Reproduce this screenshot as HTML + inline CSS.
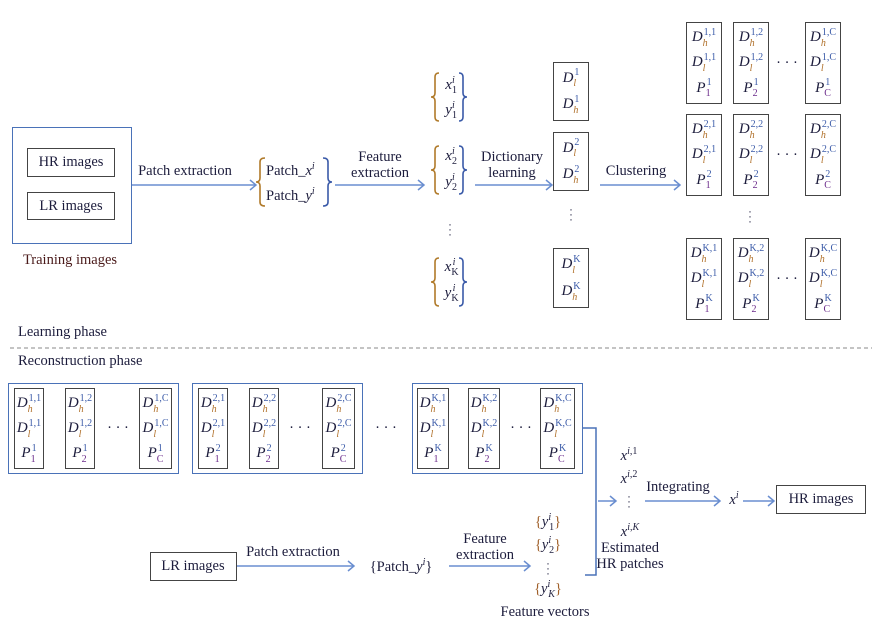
<!DOCTYPE html>
<html><head><meta charset="utf-8"><style>
body{margin:0;width:872px;height:623px;background:#fff;position:relative;overflow:hidden;font-family:"Liberation Serif",serif;color:#1c1c3c}
.t{position:absolute;white-space:nowrap;transform:translate(-50%,-50%);font-size:14.5px;line-height:16px;text-align:center}
.l{position:absolute;white-space:nowrap;font-size:14.5px}
.box{position:absolute;border:1.3px solid #444;box-sizing:border-box}
.bb{position:absolute;border:1.3px solid #4a72b8;box-sizing:border-box}
.col{position:absolute;border:1.5px solid #444;box-sizing:border-box;display:flex;flex-direction:column;justify-content:space-around;align-items:center;padding:2px 0}
.e{font-size:15px;line-height:15px;white-space:nowrap;display:flex;align-items:center}
.e i{font-style:italic}
.ss{display:inline-flex;flex-direction:column;font-size:10px;line-height:10px;margin-left:1px}
.ss b{font-weight:normal;color:#3a5aa8;height:11px}
.ss u{text-decoration:none;color:#b0702a;font-style:italic;height:9px;margin-left:-1px}
.p .ss u{color:#6a2a8a;font-style:normal}
svg{position:absolute;left:0;top:0}
</style></head><body>
<svg width="872" height="623">
<g stroke="#6a8ed0" stroke-width="1.5" fill="none">
<path d="M132 185H256M250 180l6 5-6 5"/>
<path d="M335 185H424M418 180l6 5-6 5"/>
<path d="M475 185H552M546 180l6 5-6 5"/>
<path d="M600 185H680M674 180l6 5-6 5"/>
<path d="M236 566H354M348 561l6 5-6 5"/>
<path d="M449 566H530M524 561l6 5-6 5"/>
<path d="M598 501H616M610 496l6 5-6 5"/>
<path d="M645 501H720M714 496l6 5-6 5"/>
<path d="M743 501H774M768 496l6 5-6 5"/>
<path d="M583 428H596V575H585" stroke="#4a72b8"/>
</g>
<g fill="none" stroke-width="1.6">
<path d="M265 158Q260 158 260 162V178Q260 182 256 182Q260 182 260 186V202Q260 206 265 206" stroke="#b07a2a"/>
<path d="M323 158Q328 158 328 162V178Q328 182 332 182Q328 182 328 186V202Q328 206 323 206" stroke="#3a5aa8"/>
<path d="M439 73Q435 73 435 77V93Q435 97 431 97Q435 97 435 101V117Q435 121 439 121" stroke="#b07a2a"/>
<path d="M459 73Q463 73 463 77V93Q463 97 467 97Q463 97 463 101V117Q463 121 459 121" stroke="#3a5aa8"/>
<path d="M439 146Q435 146 435 150V166Q435 170 431 170Q435 170 435 174V190Q435 194 439 194" stroke="#b07a2a"/>
<path d="M459 146Q463 146 463 150V166Q463 170 467 170Q463 170 463 174V190Q463 194 459 194" stroke="#3a5aa8"/>
<path d="M439 258Q435 258 435 262V278Q435 282 431 282Q435 282 435 286V302Q435 306 439 306" stroke="#b07a2a"/>
<path d="M459 258Q463 258 463 262V278Q463 282 467 282Q463 282 463 286V302Q463 306 459 306" stroke="#3a5aa8"/>
</g>
<line x1="10" y1="348" x2="872" y2="348" stroke="#888" stroke-width="1" stroke-dasharray="4,3"/>
</svg>

<div class="bb" style="left:12px;top:127px;width:120px;height:117px"></div>
<div class="box" style="left:27px;top:148px;width:88px;height:29px"></div>
<div class="t" style="left:71px;top:162px">HR images</div>
<div class="box" style="left:27px;top:192px;width:88px;height:28px"></div>
<div class="t" style="left:71px;top:206px">LR images</div>
<div class="t" style="left:70px;top:260px;color:#4a1a1a">Training images</div>
<div class="t" style="left:185px;top:171px">Patch extraction</div>

<div class="l" style="left:266px;top:161px">Patch_<i>x</i><sup style="font-size:10px"><i>i</i></sup></div>
<div class="l" style="left:266px;top:186px">Patch_<i>y</i><sup style="font-size:10px"><i>i</i></sup></div>

<div class="t" style="left:380px;top:165px">Feature<br>extraction</div>

<div class="t" style="left:450px;top:86px;font-size:15px"><i>x</i><sub style="font-size:10px">1</sub><sup style="font-size:10px;margin-left:-5px"><i>i</i></sup></div>
<div class="t" style="left:450px;top:111px;font-size:15px"><i>y</i><sub style="font-size:10px">1</sub><sup style="font-size:10px;margin-left:-5px"><i>i</i></sup></div>
<div class="t" style="left:450px;top:157px;font-size:15px"><i>x</i><sub style="font-size:10px">2</sub><sup style="font-size:10px;margin-left:-5px"><i>i</i></sup></div>
<div class="t" style="left:450px;top:183px;font-size:15px"><i>y</i><sub style="font-size:10px">2</sub><sup style="font-size:10px;margin-left:-5px"><i>i</i></sup></div>
<div class="t" style="left:450px;top:228px;font-size:11px;line-height:5px">.<br>.<br>.</div>
<div class="t" style="left:450px;top:268px;font-size:15px"><i>x</i><sub style="font-size:10px">K</sub><sup style="font-size:10px;margin-left:-6px"><i>i</i></sup></div>
<div class="t" style="left:450px;top:294px;font-size:15px"><i>y</i><sub style="font-size:10px">K</sub><sup style="font-size:10px;margin-left:-6px"><i>i</i></sup></div>

<div class="t" style="left:512px;top:165px">Dictionary<br>learning</div>

<div class="col" style="left:553px;top:62px;width:36px;height:59px">
<div class="e"><i>D</i><span class="ss"><b>1</b><u>l</u></span></div>
<div class="e"><i>D</i><span class="ss"><b>1</b><u>h</u></span></div></div>
<div class="col" style="left:553px;top:132px;width:36px;height:59px">
<div class="e"><i>D</i><span class="ss"><b>2</b><u>l</u></span></div>
<div class="e"><i>D</i><span class="ss"><b>2</b><u>h</u></span></div></div>
<div class="t" style="left:571px;top:213px;font-size:11px;line-height:5px">.<br>.<br>.</div>
<div class="col" style="left:553px;top:248px;width:36px;height:60px">
<div class="e"><i>D</i><span class="ss"><b>K</b><u>l</u></span></div>
<div class="e"><i>D</i><span class="ss"><b>K</b><u>h</u></span></div></div>

<div class="t" style="left:636px;top:171px">Clustering</div>

<div class="col" style="left:686px;top:22px;width:36px;height:82px"><div class="e"><i>D</i><span class="ss"><b>1,1</b><u>h</u></span></div><div class="e"><i>D</i><span class="ss"><b>1,1</b><u>l</u></span></div><div class="e p"><i>P</i><span class="ss"><b>1</b><u>1</u></span></div></div>
<div class="col" style="left:733px;top:22px;width:36px;height:82px"><div class="e"><i>D</i><span class="ss"><b>1,2</b><u>h</u></span></div><div class="e"><i>D</i><span class="ss"><b>1,2</b><u>l</u></span></div><div class="e p"><i>P</i><span class="ss"><b>1</b><u>2</u></span></div></div>
<div class="t" style="left:787px;top:63px">· · ·</div>
<div class="col" style="left:805px;top:22px;width:36px;height:82px"><div class="e"><i>D</i><span class="ss"><b>1,C</b><u>h</u></span></div><div class="e"><i>D</i><span class="ss"><b>1,C</b><u>l</u></span></div><div class="e p"><i>P</i><span class="ss"><b>1</b><u>C</u></span></div></div>

<div class="col" style="left:686px;top:114px;width:36px;height:82px"><div class="e"><i>D</i><span class="ss"><b>2,1</b><u>h</u></span></div><div class="e"><i>D</i><span class="ss"><b>2,1</b><u>l</u></span></div><div class="e p"><i>P</i><span class="ss"><b>2</b><u>1</u></span></div></div>
<div class="col" style="left:733px;top:114px;width:36px;height:82px"><div class="e"><i>D</i><span class="ss"><b>2,2</b><u>h</u></span></div><div class="e"><i>D</i><span class="ss"><b>2,2</b><u>l</u></span></div><div class="e p"><i>P</i><span class="ss"><b>2</b><u>2</u></span></div></div>
<div class="t" style="left:787px;top:155px">· · ·</div>
<div class="col" style="left:805px;top:114px;width:36px;height:82px"><div class="e"><i>D</i><span class="ss"><b>2,C</b><u>h</u></span></div><div class="e"><i>D</i><span class="ss"><b>2,C</b><u>l</u></span></div><div class="e p"><i>P</i><span class="ss"><b>2</b><u>C</u></span></div></div>

<div class="t" style="left:750px;top:215px;font-size:11px;line-height:5px">.<br>.<br>.</div>

<div class="col" style="left:686px;top:238px;width:36px;height:82px"><div class="e"><i>D</i><span class="ss"><b>K,1</b><u>h</u></span></div><div class="e"><i>D</i><span class="ss"><b>K,1</b><u>l</u></span></div><div class="e p"><i>P</i><span class="ss"><b>K</b><u>1</u></span></div></div>
<div class="col" style="left:733px;top:238px;width:36px;height:82px"><div class="e"><i>D</i><span class="ss"><b>K,2</b><u>h</u></span></div><div class="e"><i>D</i><span class="ss"><b>K,2</b><u>l</u></span></div><div class="e p"><i>P</i><span class="ss"><b>K</b><u>2</u></span></div></div>
<div class="t" style="left:787px;top:279px">· · ·</div>
<div class="col" style="left:805px;top:238px;width:36px;height:82px"><div class="e"><i>D</i><span class="ss"><b>K,C</b><u>h</u></span></div><div class="e"><i>D</i><span class="ss"><b>K,C</b><u>l</u></span></div><div class="e p"><i>P</i><span class="ss"><b>K</b><u>C</u></span></div></div>

<div class="l" style="left:18px;top:324px">Learning phase</div>
<div class="l" style="left:18px;top:353px">Reconstruction phase</div>

<div class="bb" style="left:8px;top:383px;width:171px;height:91px"></div>
<div class="col" style="left:14px;top:388px;width:30px;height:81px"><div class="e"><i>D</i><span class="ss"><b>1,1</b><u>h</u></span></div><div class="e"><i>D</i><span class="ss"><b>1,1</b><u>l</u></span></div><div class="e p"><i>P</i><span class="ss"><b>1</b><u>1</u></span></div></div>
<div class="col" style="left:65px;top:388px;width:30px;height:81px"><div class="e"><i>D</i><span class="ss"><b>1,2</b><u>h</u></span></div><div class="e"><i>D</i><span class="ss"><b>1,2</b><u>l</u></span></div><div class="e p"><i>P</i><span class="ss"><b>1</b><u>2</u></span></div></div>
<div class="t" style="left:118px;top:428px">· · ·</div>
<div class="col" style="left:139px;top:388px;width:33px;height:81px"><div class="e"><i>D</i><span class="ss"><b>1,C</b><u>h</u></span></div><div class="e"><i>D</i><span class="ss"><b>1,C</b><u>l</u></span></div><div class="e p"><i>P</i><span class="ss"><b>1</b><u>C</u></span></div></div>

<div class="bb" style="left:192px;top:383px;width:171px;height:91px"></div>
<div class="col" style="left:198px;top:388px;width:30px;height:81px"><div class="e"><i>D</i><span class="ss"><b>2,1</b><u>h</u></span></div><div class="e"><i>D</i><span class="ss"><b>2,1</b><u>l</u></span></div><div class="e p"><i>P</i><span class="ss"><b>2</b><u>1</u></span></div></div>
<div class="col" style="left:249px;top:388px;width:30px;height:81px"><div class="e"><i>D</i><span class="ss"><b>2,2</b><u>h</u></span></div><div class="e"><i>D</i><span class="ss"><b>2,2</b><u>l</u></span></div><div class="e p"><i>P</i><span class="ss"><b>2</b><u>2</u></span></div></div>
<div class="t" style="left:300px;top:428px">· · ·</div>
<div class="col" style="left:322px;top:388px;width:33px;height:81px"><div class="e"><i>D</i><span class="ss"><b>2,C</b><u>h</u></span></div><div class="e"><i>D</i><span class="ss"><b>2,C</b><u>l</u></span></div><div class="e p"><i>P</i><span class="ss"><b>2</b><u>C</u></span></div></div>

<div class="t" style="left:386px;top:428px">· · ·</div>

<div class="bb" style="left:412px;top:383px;width:171px;height:91px"></div>
<div class="col" style="left:417px;top:388px;width:32px;height:81px"><div class="e"><i>D</i><span class="ss"><b>K,1</b><u>h</u></span></div><div class="e"><i>D</i><span class="ss"><b>K,1</b><u>l</u></span></div><div class="e p"><i>P</i><span class="ss"><b>K</b><u>1</u></span></div></div>
<div class="col" style="left:468px;top:388px;width:32px;height:81px"><div class="e"><i>D</i><span class="ss"><b>K,2</b><u>h</u></span></div><div class="e"><i>D</i><span class="ss"><b>K,2</b><u>l</u></span></div><div class="e p"><i>P</i><span class="ss"><b>K</b><u>2</u></span></div></div>
<div class="t" style="left:521px;top:428px">· · ·</div>
<div class="col" style="left:540px;top:388px;width:35px;height:81px"><div class="e"><i>D</i><span class="ss"><b>K,C</b><u>h</u></span></div><div class="e"><i>D</i><span class="ss"><b>K,C</b><u>l</u></span></div><div class="e p"><i>P</i><span class="ss"><b>K</b><u>C</u></span></div></div>

<div class="t" style="left:629px;top:454px"><i>x</i><sup style="font-size:10px"><i>i</i>,1</sup></div>
<div class="t" style="left:629px;top:477px"><i>x</i><sup style="font-size:10px"><i>i</i>,2</sup></div>
<div class="t" style="left:629px;top:500px;font-size:11px;line-height:5px">.<br>.<br>.</div>
<div class="t" style="left:630px;top:530px"><i>x</i><sup style="font-size:10px"><i>i</i>,<i>K</i></sup></div>
<div class="t" style="left:630px;top:556px">Estimated<br>HR patches</div>
<div class="t" style="left:678px;top:487px">Integrating</div>
<div class="t" style="left:734px;top:498px"><i>x</i><sup style="font-size:10px"><i>i</i></sup></div>
<div class="box" style="left:776px;top:485px;width:90px;height:29px"></div>
<div class="t" style="left:821px;top:499px">HR images</div>

<div class="box" style="left:150px;top:552px;width:87px;height:29px"></div>
<div class="t" style="left:193px;top:566px">LR images</div>
<div class="t" style="left:293px;top:552px">Patch extraction</div>
<div class="t" style="left:401px;top:565px">{Patch_<i>y</i><sup style="font-size:10px"><i>i</i></sup>}</div>
<div class="t" style="left:485px;top:547px">Feature<br>extraction</div>
<div class="t" style="left:548px;top:523px;color:#a0602a">{<i style="color:#1c1c3c">y</i><sup style="font-size:10px;color:#1c1c3c"><i>i</i></sup><sub style="font-size:10px;color:#1c1c3c;margin-left:-2px">1</sub>}</div>
<div class="t" style="left:548px;top:546px;color:#a0602a">{<i style="color:#1c1c3c">y</i><sup style="font-size:10px;color:#1c1c3c"><i>i</i></sup><sub style="font-size:10px;color:#1c1c3c;margin-left:-2px">2</sub>}</div>
<div class="t" style="left:548px;top:567px;font-size:11px;line-height:5px">.<br>.<br>.</div>
<div class="t" style="left:548px;top:590px;color:#a0602a">{<i style="color:#1c1c3c">y</i><sup style="font-size:10px;color:#1c1c3c"><i>i</i></sup><sub style="font-size:10px;color:#1c1c3c;margin-left:-2px"><i>K</i></sub>}</div>
<div class="t" style="left:545px;top:612px">Feature vectors</div>
</body></html>
